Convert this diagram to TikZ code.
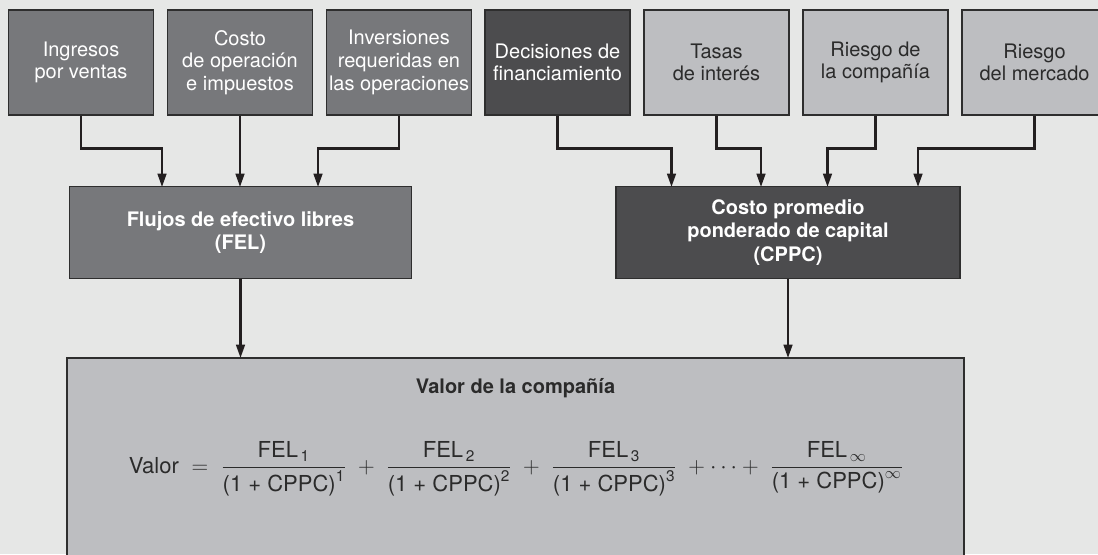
\documentclass[tikz,border=0pt]{standalone}
\usepackage{amsmath}
\usepackage{fontspec}
\setmainfont{TeX Gyre Heros}
\usetikzlibrary{arrows.meta}
\definecolor{bg}{HTML}{E6E7E6}
\definecolor{lightbox}{HTML}{BDBEC1}
\definecolor{medbox}{HTML}{77787B}
\definecolor{darkbox}{HTML}{4C4C4E}
\definecolor{bordercol}{HTML}{2E2E2E}
\definecolor{textdark}{HTML}{2B2B2B}
\definecolor{arrowcol}{HTML}{231F20}
\tikzset{
  box/.style={draw=bordercol, line width=0.8pt, align=center, inner sep=0pt,
    font=\fontsize{15}{17}\selectfont},
  topbox/.style={box, minimum width=108.75pt, minimum height=78.75pt},
  medtop/.style={topbox, fill=medbox, text=white},
  darktop/.style={topbox, fill=darkbox, text=white},
  lighttop/.style={topbox, fill=lightbox, text=textdark},
  midbox/.style={box, minimum width=256pt, minimum height=68.5pt,
    font=\bfseries\fontsize{15}{17.5}\selectfont, text=white},
  arr/.style={draw=arrowcol, line width=1.8pt,
    -{Triangle[length=10pt,width=6.5pt]}},
}
\newcommand{\felfrac}[2]{\dfrac{\text{FEL}_{\,\text{#1}}}{\text{(1 + CPPC)}^{\text{#2}}}}
\begin{document}
\begin{tikzpicture}[x=0.75pt,y=-0.75pt]
\useasboundingbox (0,0) rectangle (1098,554);
\fill[bg] (0,0) rectangle (1098,554);
\clip (0,0) rectangle (1098,554);

% top row
\node[medtop]   (b1) at (81,62.5)    {Ingresos\\por ventas};
\node[medtop]   (b2) at (240,62.5)   {Costo\\de operación\\e impuestos};
\node[medtop]   (b3) at (399,62.5)   {Inversiones\\requeridas en\\las operaciones};
\node[darktop]  (b4) at (557.5,62.5) {Decisiones de\\financiamiento};
\node[lighttop] (b5) at (716.5,62.5) {Tasas\\de interés};
\node[lighttop] (b6) at (875.5,62.5) {Riesgo de\\la compañía};
\node[lighttop] (b7) at (1034.5,62.5){Riesgo\\del mercado};

% middle row
\node[midbox, fill=medbox]  (fel)  at (240.5,232.5) {Flujos de efectivo libres\\(FEL)};
\node[midbox, fill=darkbox, minimum width=258pt] (cppc) at (788,232.5) {Costo promedio\\ponderado de capital\\(CPPC)};

% bottom box
\node[draw=bordercol, line width=0.8pt, fill=lightbox, minimum width=672.75pt,
      minimum height=159pt, inner sep=0pt] (val) at (515.5,464) {};
\node[font=\bfseries\fontsize{15}{17}\selectfont, text=textdark] (vtitle) at (515.5,388) {Valor de la compañía};
\node[font=\fontsize{16.5}{19}\selectfont, text=textdark] (formula) at (516,469)
{$\text{Valor}\;=\;\felfrac{1}{1}\;+\;\felfrac{2}{2}\;+\;\felfrac{3}{3}\;+\cdots+\;
 \dfrac{\text{FEL}_{\,\infty}}{\text{(1 + CPPC)}^{\infty}}$};

% arrow end points
\coordinate (f1) at (162,187);
\coordinate (f2) at (240,187);
\coordinate (f3) at (318,187);
\coordinate (c1) at (671.5,187);
\coordinate (c2) at (761,187);
\coordinate (c3) at (827.5,187);
\coordinate (c4) at (918,187);
\coordinate (v1) at (240.5,358);
\coordinate (v2) at (788,358);

\draw[arr] (b1.south) -- ++(0,33) -| (f1);
\draw[arr] (b2.south) -- (f2);
\draw[arr] (b3.south) -- ++(0,33) -| (f3);
\draw[arr] (b4.south) -- ++(0,33) -| (c1);
\draw[arr] (b5.south) -- ++(0,33) -| (c2);
\draw[arr] (b6.south) -- ++(0,33) -| (c3);
\draw[arr] (b7.south) -- ++(0,33) -| (c4);
\draw[arr] (fel.south) -- (v1);
\draw[arr] (cppc.south) -- (v2);
\end{tikzpicture}
\end{document}
